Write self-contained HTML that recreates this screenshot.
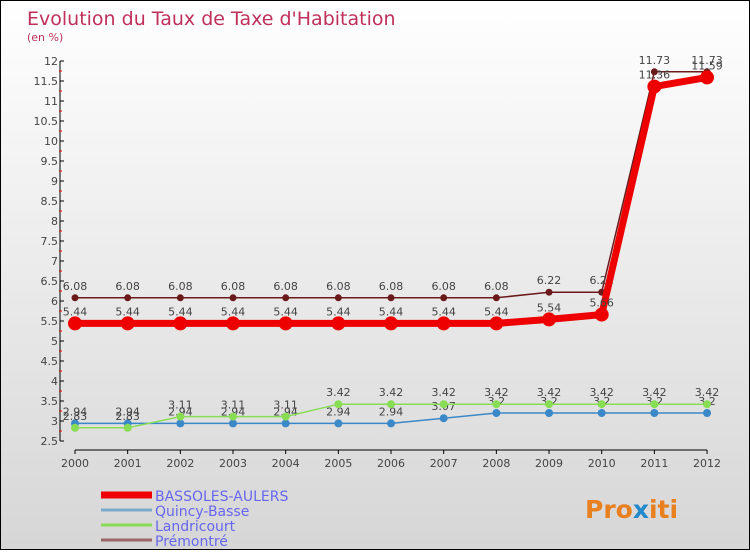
<!DOCTYPE html>
<html><head><meta charset="utf-8"><style>
body{margin:0}
#c{width:748px;height:548px;border:1px solid #000;background:linear-gradient(#fff,#d6d6d6);position:relative;font-family:"DejaVu Sans","Liberation Sans",sans-serif}
</style></head><body>
<div id="c">
<svg id="s" width="748" height="548" xmlns="http://www.w3.org/2000/svg" font-family="DejaVu Sans, Liberation Sans, sans-serif">
<text x="26" y="24" font-size="19" fill="#c0305a">Evolution du Taux de Taxe d'Habitation</text>
<text x="26" y="40" font-size="11" fill="#c0305a">(en %)</text>
<g id="axes"></g><g id="series"></g><g id="legend"></g>
<text x="584" y="517" font-size="25" font-weight="bold" fill="#e88020">Pro<tspan fill="#2288cc">x</tspan>iti</text>
</svg></div>
<script>
const years=[2000,2001,2002,2003,2004,2005,2006,2007,2008,2009,2010,2011,2012];
const bassoles=[5.44,5.44,5.44,5.44,5.44,5.44,5.44,5.44,5.44,5.54,5.66,11.36,11.59];
const quincy=[2.94,2.94,2.94,2.94,2.94,2.94,2.94,3.07,3.2,3.2,3.2,3.2,3.2];
const landricourt=[2.83,2.83,3.11,3.11,3.11,3.42,3.42,3.42,3.42,3.42,3.42,3.42,3.42];
const premontre=[6.08,6.08,6.08,6.08,6.08,6.08,6.08,6.08,6.08,6.22,6.22,11.73,11.73];
const yTicks=[2.5,3,3.5,4,4.5,5,5.5,6,6.5,7,7.5,8,8.5,9,9.5,10,10.5,11,11.5,12];
const NS="http://www.w3.org/2000/svg";
const X=i=>74+i*52.67, Y=v=>60+(12-v)*40;
function mk(t,a,p){const e=document.createElementNS(NS,t);for(const k in a)e.setAttribute(k,a[k]);p.appendChild(e);return e;}
const ax=document.getElementById('axes');
let l=mk('line',{x1:59,y1:Y(12),x2:59,y2:Y(2.5),stroke:'#000'},ax);


l=mk('line',{x1:74,y1:449,x2:X(12),y2:449,stroke:'#000'},ax);


yTicks.forEach(v=>{
 mk('line',{x1:59,y1:Y(v),x2:63,y2:Y(v),stroke:'#000'},ax);
 if(v<12) mk('line',{x1:58,y1:Y(v+0.25),x2:61,y2:Y(v+0.25),stroke:'#e00'},ax);
 const t=mk('text',{x:57,y:Y(v)+4,'font-size':11,'text-anchor':'end',fill:'#444'},ax);t.textContent=v;
 
 
});
years.forEach((y,i)=>{
 mk('line',{x1:X(i),y1:449,x2:X(i),y2:453,stroke:'#000'},ax);
 const t=mk('text',{x:X(i),y:466,'font-size':11,'text-anchor':'middle',fill:'#444'},ax);t.textContent=y;
 
 
});
const sg=document.getElementById('series');
function series(d,col,w,r,name){
 const g=mk('g',{},sg);
 
 
 mk('polyline',{points:d.map((v,i)=>X(i)+','+Y(v)).join(' '),fill:'none',stroke:col,'stroke-width':w},g);
 d.forEach((v,i)=>{
  const c=mk('circle',{cx:X(i),cy:Y(v),r:r,fill:col},g);
  
  
  const t=mk('text',{x:X(i),y:Y(v)-8,'font-size':11,'text-anchor':'middle',fill:'#444'},g);t.textContent=v;
 });
}
series(quincy,'#3a88c8',1.5,4,'series-quincy-basse');
series(landricourt,'#88dd55',1.5,4,'series-landricourt');
series(premontre,'#6a1a1a',1.5,3.5,'series-premontre');
series(bassoles,'#ee0000',7,7,'series-bassoles-aulers');
const lg=document.getElementById('legend');
[['BASSOLES-AULERS','#ee0000',7],['Quincy-Basse','#7aaacc',3],['Landricourt','#88dd55',3],['Prémontré','#996666',3]].forEach((e,i)=>{
 const y=492+i*15;
 const g=mk('g',{},lg);
 
 
 mk('line',{x1:100,y1:y+2,x2:151,y2:y+2,stroke:e[1],'stroke-width':e[2]},g);
 const t=mk('text',{x:154,y:y+8,'font-size':14,fill:'#6666ee'},g);t.textContent=e[0];
});
</script>
</body></html>
